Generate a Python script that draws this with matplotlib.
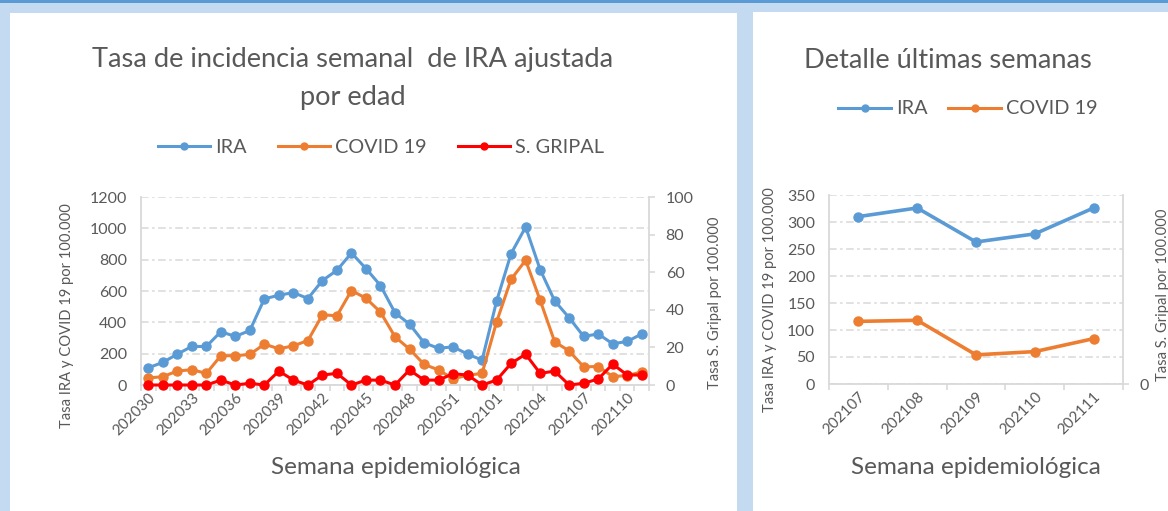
import matplotlib
matplotlib.use('Agg')
import matplotlib.pyplot as plt
from matplotlib.lines import Line2D
from matplotlib.patches import Rectangle
import numpy as np

# weekly age-adjusted incidence (per 100.000)
weeks = ['202030', '202031', '202032', '202033', '202034', '202035', '202036',
         '202037', '202038', '202039', '202040', '202041', '202042', '202043',
         '202044', '202045', '202046', '202047', '202048', '202049', '202050',
         '202051', '202052', '202053', '202101', '202102', '202103', '202104',
         '202105', '202106', '202107', '202108', '202109', '202110', '202111']
ira = [110, 144, 197, 246, 246, 340, 310, 348, 550, 573, 590, 552, 667, 732,
       843, 743, 635, 461, 389, 270, 234, 244, 197, 159, 535, 839, 1008, 737,
       537, 429, 310, 326, 263, 278, 326]
covid = [45, 53, 89, 98, 74, 187, 187, 195, 261, 231, 250, 284, 448, 442,
         603, 554, 465, 308, 229, 132, 96, 40, 62, 74, 403, 675, 796, 541,
         276, 217, 116, 118, 54, 60, 84]
gripal = [0, 0, 0, 0, 0, 2.6, 0, 0.9, 0, 7.4, 2.6, 0, 5.3, 6.2,
          0, 2.6, 2.6, 0, 8, 2.6, 2.6, 6, 5.3, 0, 2.6, 11.5, 16.4, 6.2,
          7.4, 0, 0.9, 3.2, 11.1, 5.3, 5.3]

# detail of the last weeks
det_weeks = ['202107', '202108', '202109', '202110', '202111']
det_ira = [310, 326, 263, 278, 326]
det_covid = [116, 118, 54, 60, 84]

W, H = 1168, 511
C_IRA, C_COV, C_GRIP = '#5B9BD5', '#ED7D31', '#FF0000'
TXT = '#595959'
GRID = '#D9D9D9'
FONT = 'Lato'
TITLE_FS, XLAB_FS, YLAB_FS, LEG_FS, TICK_FS = 19.6, 17.5, 10.6, 14.3, 11.5

plt.rcParams['font.family'] = [FONT, 'DejaVu Sans']
plt.rcParams['lines.scale_dashes'] = False

fig = plt.figure(figsize=(W / 100, H / 100), dpi=100)
fig.patch.set_facecolor('#C3DAF0')


def fx(x):
    return x / W


def fy(y):
    return 1 - y / H


def px_axes(x0, y0, x1, y1):
    ax = fig.add_axes([fx(x0), fy(y1), (x1 - x0) / W, (y1 - y0) / H])
    ax.set_facecolor('none')
    return ax


# background panels
fig.add_artist(Rectangle((0, fy(3)), 1, 3 / H, transform=fig.transFigure,
                         facecolor='#5B9BD5', edgecolor='none', zorder=-1))
fig.add_artist(Rectangle((fx(10), 0), (737 - 10) / W, fy(13), transform=fig.transFigure,
                         facecolor='white', edgecolor='none', zorder=-1))
fig.add_artist(Rectangle((fx(753), 0), (W - 753) / W, fy(12), transform=fig.transFigure,
                         facecolor='white', edgecolor='none', zorder=-1))


def style_axes(ax, n, ymax, ystep):
    ax.set_xlim(-0.5, n - 0.5)
    ax.set_ylim(0, ymax)
    ax.set_yticks(np.arange(0, ymax + 1, ystep))
    ax.yaxis.grid(True, color=GRID, lw=1.1, dashes=(5.5, 2.5, 1.8, 2.5))
    ax.set_axisbelow(True)
    for s in ('top', 'right'):
        ax.spines[s].set_visible(False)
    for s in ('left', 'bottom'):
        ax.spines[s].set_color(GRID)
        ax.spines[s].set_linewidth(1.3)
    ax.tick_params(axis='y', length=0, pad=10, labelsize=TICK_FS, labelcolor=TXT)
    ax.tick_params(axis='x', which='major', length=0, pad=4, labelsize=11,
                   labelcolor=TXT)
    ax.set_xticks(np.arange(-0.5, n), minor=True)
    ax.tick_params(axis='x', which='minor', length=4, color=GRID, width=1.2)


def twin_axis(ax):
    ax2 = ax.twinx()
    for s in ('top', 'left', 'bottom'):
        ax2.spines[s].set_visible(False)
    ax2.spines['right'].set_color(GRID)
    ax2.spines['right'].set_linewidth(1.3)
    ax2.tick_params(axis='y', length=4, color=GRID, width=1.2, pad=8,
                    labelsize=TICK_FS, labelcolor=TXT)
    return ax2


# ---- left chart ----
ax = px_axes(141, 197, 649, 385)
x = np.arange(len(weeks))
style_axes(ax, len(weeks), 1200, 200)
ax.plot(x, ira, color=C_IRA, lw=2.2, marker='o', ms=6.5, clip_on=False)
ax.plot(x, covid, color=C_COV, lw=2.2, marker='o', ms=6.5, clip_on=False)
ax.set_xticks(x[::3])
ax.set_xticklabels(weeks[::3], rotation=45, ha='right', rotation_mode='anchor')

ax2 = twin_axis(ax)
ax2.set_ylim(0, 100)
ax2.set_yticks(np.arange(0, 101, 20))
ax2.plot(x, gripal, color=C_GRIP, lw=2.2, marker='o', ms=6.5, clip_on=False)

fig.text(fx(353), fy(60), 'Tasa de incidencia semanal  de IRA ajustada',
         ha='center', va='center', fontsize=TITLE_FS, color=TXT)
fig.text(fx(353), fy(97), 'por edad', ha='center', va='center',
         fontsize=TITLE_FS, color=TXT)
fig.text(fx(67), fy(316), 'Tasa IRA y COVID 19 por 100.000', rotation=90,
         ha='center', va='center', fontsize=YLAB_FS, color=TXT)
fig.text(fx(715), fy(303), 'Tasa S. Gripal por 100.000', rotation=90,
         ha='center', va='center', fontsize=YLAB_FS, color=TXT)
fig.text(fx(396), fy(467), 'Semana epidemiológica', ha='center', va='center',
         fontsize=XLAB_FS, color=TXT)

handles = [Line2D([], [], color=C_IRA, lw=2.2, marker='o', ms=5),
           Line2D([], [], color=C_COV, lw=2.2, marker='o', ms=5),
           Line2D([], [], color=C_GRIP, lw=2.2, marker='o', ms=5)]
fig.legend(handles, ['IRA', 'COVID 19', 'S. GRIPAL'], ncol=3, loc='center',
           bbox_to_anchor=(fx(381), fy(147)), frameon=False, fontsize=LEG_FS,
           handlelength=2.65, handletextpad=0.25, columnspacing=1.55,
           labelcolor=TXT)

# ---- right chart ----
bx = px_axes(829, 195, 1123, 384)
xd = np.arange(len(det_weeks))
style_axes(bx, len(det_weeks), 350, 50)
bx.plot(xd, det_ira, color=C_IRA, lw=2.6, marker='o', ms=6.5)
bx.plot(xd, det_covid, color=C_COV, lw=2.6, marker='o', ms=6.5)
bx.set_xticks(xd)
bx.set_xticklabels(det_weeks, rotation=45, ha='right', rotation_mode='anchor')

bx2 = twin_axis(bx)
bx2.set_ylim(0, 1)
bx2.set_yticks([0])

fig.text(fx(948), fy(60), 'Detalle últimas semanas', ha='center', va='center',
         fontsize=TITLE_FS, color=TXT)
fig.text(fx(770), fy(300), 'Tasa IRA y COVID 19 por 100.000', rotation=90,
         ha='center', va='center', fontsize=YLAB_FS, color=TXT)
fig.text(fx(1163), fy(295), 'Tasa S. Gripal por 100.000', rotation=90,
         ha='center', va='center', fontsize=YLAB_FS, color=TXT)
fig.text(fx(976), fy(467), 'Semana epidemiológica', ha='center', va='center',
         fontsize=XLAB_FS, color=TXT)
fig.legend(handles[:2], ['IRA', 'COVID 19'], ncol=2, loc='center',
           bbox_to_anchor=(fx(968), fy(109)), frameon=False, fontsize=LEG_FS,
           handlelength=2.65, handletextpad=0.25, columnspacing=1.05,
           labelcolor=TXT)

fig.savefig('out.png', dpi=100, facecolor=fig.get_facecolor())
